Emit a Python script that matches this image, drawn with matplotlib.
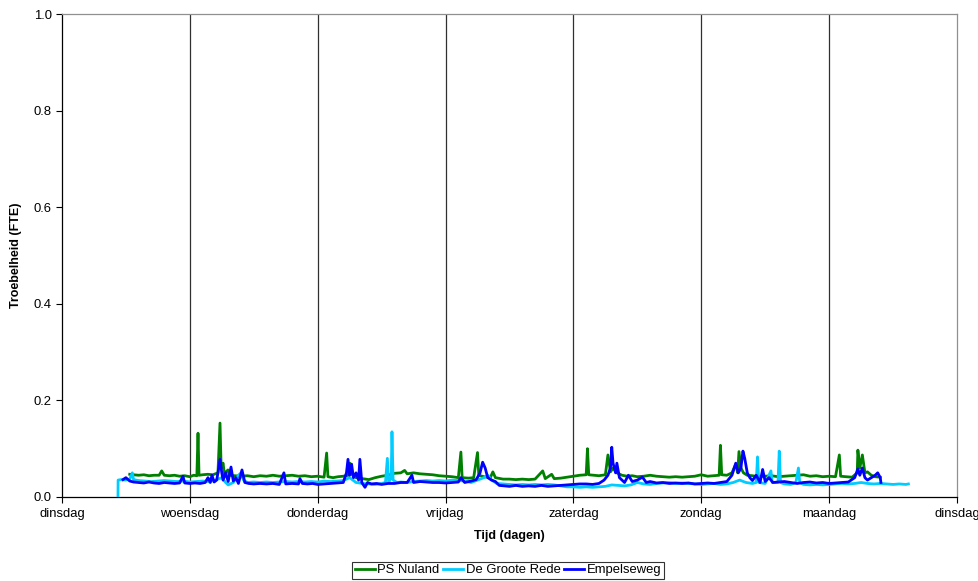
import matplotlib
matplotlib.use("Agg")
from matplotlib import pyplot as plt

plt.rcParams['font.family'] = ['Liberation Sans', 'DejaVu Sans']

days = ["dinsdag", "woensdag", "donderdag", "vrijdag", "zaterdag", "zondag", "maandag", "dinsdag"]

# PS Nuland (tijd in dagen, troebelheid in FTE)
nuland_t = [0.53, 0.56, 0.60, 0.64, 0.68, 0.72, 0.76, 0.78, 0.80, 0.84, 0.88, 0.92, 0.96, 1.00, 1.03, 1.055,
            1.064, 1.072, 1.10, 1.14, 1.18, 1.22, 1.236, 1.245, 1.26, 1.27, 1.298, 1.31, 1.35, 1.40, 1.45,
            1.50, 1.55, 1.60, 1.65, 1.70, 1.75, 1.80, 1.85, 1.90, 1.95, 2.00, 2.05, 2.07, 2.08, 2.12, 2.16,
            2.20, 2.24, 2.252, 2.27, 2.30, 2.35, 2.40, 2.45, 2.50, 2.55, 2.60, 2.65, 2.68, 2.70, 2.75, 2.80,
            2.85, 2.90, 2.95, 3.00, 3.05, 3.10, 3.12, 3.13, 3.18, 3.22, 3.25, 3.26, 3.30, 3.35, 3.37, 3.39,
            3.45, 3.50, 3.55, 3.60, 3.65, 3.70, 3.76, 3.78, 3.83, 3.85, 3.90, 3.95, 4.00, 4.05, 4.10, 4.11,
            4.12, 4.16, 4.20, 4.25, 4.27, 4.29, 4.31, 4.34, 4.38, 4.42, 4.46, 4.50, 4.55, 4.60, 4.65, 4.70,
            4.75, 4.80, 4.85, 4.90, 4.95, 5.00, 5.05, 5.10, 5.14, 5.15, 5.16, 5.20, 5.24, 5.27, 5.285, 5.295,
            5.31, 5.33, 5.36, 5.40, 5.45, 5.50, 5.55, 5.60, 5.65, 5.70, 5.75, 5.80, 5.85, 5.90, 5.95, 6.00,
            6.05, 6.08, 6.09, 6.13, 6.18, 6.22, 6.225, 6.24, 6.26, 6.28, 6.30, 6.33, 6.36, 6.40]
nuland_v = [0.047, 0.046, 0.045, 0.046, 0.044, 0.045, 0.045, 0.054, 0.045, 0.044, 0.045, 0.043, 0.044, 0.042, 0.045, 0.044,
            0.132, 0.045, 0.046, 0.047, 0.046, 0.050, 0.153, 0.060, 0.070, 0.048, 0.056, 0.045, 0.044, 0.043, 0.044,
            0.042, 0.044, 0.043, 0.045, 0.043, 0.044, 0.045, 0.043, 0.044, 0.042, 0.043, 0.041, 0.091, 0.042, 0.040, 0.042,
            0.043, 0.045, 0.070, 0.046, 0.040, 0.038, 0.036, 0.040, 0.043, 0.045, 0.049, 0.050, 0.055, 0.048, 0.050, 0.048,
            0.047, 0.046, 0.044, 0.043, 0.042, 0.040, 0.093, 0.040, 0.039, 0.040, 0.092, 0.045, 0.042, 0.040, 0.052, 0.040,
            0.037, 0.037, 0.036, 0.037, 0.036, 0.037, 0.054, 0.038, 0.047, 0.038, 0.039, 0.041, 0.043, 0.045, 0.046, 0.100,
            0.046, 0.045, 0.044, 0.046, 0.087, 0.052, 0.060, 0.050, 0.045, 0.043, 0.044, 0.042, 0.043, 0.045, 0.043, 0.042,
            0.041, 0.042, 0.041, 0.042, 0.043, 0.046, 0.043, 0.044, 0.045, 0.107, 0.046, 0.045, 0.050, 0.068, 0.050, 0.094,
            0.060, 0.050, 0.045, 0.044, 0.042, 0.043, 0.044, 0.042, 0.043, 0.044, 0.045, 0.046, 0.043, 0.044, 0.042, 0.043,
            0.042, 0.087, 0.043, 0.042, 0.041, 0.050, 0.097, 0.060, 0.087, 0.050, 0.052, 0.045, 0.042, 0.041]

# De Groote Rede
rede_t = [0.438, 0.439, 0.46, 0.50, 0.53, 0.55, 0.56, 0.60, 0.65, 0.70, 0.75, 0.80, 0.85, 0.90, 0.95, 1.00,
          1.05, 1.10, 1.15, 1.20, 1.25, 1.28, 1.30, 1.34, 1.38, 1.40, 1.42, 1.45, 1.50, 1.55, 1.60, 1.65,
          1.70, 1.75, 1.80, 1.85, 1.90, 1.95, 2.00, 2.05, 2.10, 2.15, 2.20, 2.25, 2.30, 2.35, 2.40, 2.45,
          2.50, 2.53, 2.545, 2.555, 2.575, 2.581, 2.59, 2.62, 2.65, 2.70, 2.75, 2.80, 2.85, 2.90, 2.95, 3.00,
          3.05, 3.10, 3.15, 3.20, 3.25, 3.30, 3.33, 3.36, 3.40, 3.45, 3.50, 3.55, 3.60, 3.65, 3.70, 3.75,
          3.80, 3.85, 3.90, 3.95, 4.00, 4.05, 4.10, 4.15, 4.20, 4.25, 4.30, 4.35, 4.40, 4.45, 4.50, 4.55,
          4.60, 4.65, 4.70, 4.75, 4.80, 4.85, 4.90, 4.95, 5.00, 5.05, 5.10, 5.15, 5.20, 5.25, 5.30, 5.35,
          5.40, 5.43, 5.44, 5.45, 5.50, 5.545, 5.555, 5.60, 5.61, 5.62, 5.65, 5.70, 5.74, 5.76, 5.77, 5.80,
          5.85, 5.90, 5.95, 6.00, 6.05, 6.10, 6.15, 6.20, 6.25, 6.30, 6.35, 6.40, 6.45, 6.50, 6.55, 6.60, 6.62]
rede_v = [0.0, 0.035, 0.036, 0.035, 0.037, 0.050, 0.036, 0.034, 0.033, 0.032, 0.033, 0.034, 0.033, 0.032, 0.033, 0.031,
          0.032, 0.033, 0.032, 0.035, 0.040, 0.030, 0.025, 0.030, 0.045, 0.050, 0.035, 0.030, 0.031, 0.030, 0.031, 0.030,
          0.031, 0.032, 0.031, 0.032, 0.031, 0.032, 0.031, 0.033, 0.032, 0.033, 0.034, 0.040, 0.030, 0.028, 0.027, 0.026,
          0.028, 0.030, 0.080, 0.030, 0.040, 0.135, 0.035, 0.030, 0.031, 0.030, 0.032, 0.033, 0.034, 0.033, 0.034, 0.033,
          0.035, 0.034, 0.033, 0.030, 0.035, 0.040, 0.045, 0.035, 0.028, 0.027, 0.026, 0.025, 0.026, 0.025, 0.026, 0.025,
          0.026, 0.025, 0.023, 0.021, 0.021, 0.020, 0.021, 0.020, 0.021, 0.022, 0.025, 0.024, 0.023, 0.025, 0.030, 0.027,
          0.026, 0.028, 0.029, 0.030, 0.028, 0.029, 0.028, 0.027, 0.026, 0.027, 0.028, 0.026, 0.027, 0.030, 0.035, 0.030,
          0.028, 0.030, 0.083, 0.030, 0.028, 0.054, 0.030, 0.030, 0.095, 0.030, 0.027, 0.026, 0.030, 0.060, 0.030, 0.026,
          0.025, 0.026, 0.025, 0.026, 0.027, 0.028, 0.027, 0.028, 0.030, 0.028, 0.027, 0.028, 0.027, 0.026, 0.027, 0.026, 0.027]

# Empelseweg
empel_t = [0.477, 0.50, 0.53, 0.56, 0.60, 0.64, 0.68, 0.72, 0.76, 0.80, 0.84, 0.88, 0.92, 0.946, 0.96, 1.00,
           1.04, 1.08, 1.12, 1.142, 1.16, 1.173, 1.19, 1.21, 1.22, 1.236, 1.25, 1.26, 1.28, 1.30, 1.322, 1.34,
           1.36, 1.38, 1.408, 1.43, 1.46, 1.50, 1.55, 1.60, 1.65, 1.70, 1.736, 1.75, 1.80, 1.85, 1.861, 1.88,
           1.92, 1.96, 2.00, 2.05, 2.10, 2.15, 2.20, 2.225, 2.237, 2.25, 2.265, 2.28, 2.30, 2.32, 2.33, 2.345,
           2.37, 2.39, 2.42, 2.46, 2.50, 2.55, 2.60, 2.65, 2.70, 2.737, 2.75, 2.80, 2.85, 2.90, 2.95, 3.00,
           3.05, 3.10, 3.12, 3.15, 3.20, 3.24, 3.27, 3.29, 3.31, 3.33, 3.36, 3.39, 3.42, 3.46, 3.50, 3.55,
           3.60, 3.65, 3.70, 3.75, 3.80, 3.85, 3.90, 3.95, 4.00, 4.05, 4.10, 4.15, 4.20, 4.24, 4.27, 4.29,
           4.30, 4.31, 4.33, 4.34, 4.36, 4.40, 4.43, 4.46, 4.50, 4.54, 4.57, 4.60, 4.65, 4.70, 4.75, 4.80,
           4.85, 4.90, 4.95, 5.00, 5.05, 5.10, 5.15, 5.20, 5.24, 5.27, 5.29, 5.31, 5.326, 5.34, 5.36, 5.38,
           5.40, 5.43, 5.46, 5.48, 5.50, 5.53, 5.56, 5.60, 5.65, 5.70, 5.75, 5.80, 5.85, 5.90, 5.95, 6.00,
           6.05, 6.10, 6.15, 6.20, 6.225, 6.24, 6.26, 6.28, 6.30, 6.33, 6.36, 6.38, 6.40, 6.405]
empel_v = [0.036, 0.040, 0.033, 0.031, 0.030, 0.029, 0.031, 0.029, 0.028, 0.030, 0.029, 0.028, 0.029, 0.043, 0.029, 0.028,
           0.029, 0.028, 0.030, 0.040, 0.030, 0.045, 0.031, 0.035, 0.050, 0.078, 0.050, 0.035, 0.050, 0.032, 0.062, 0.033,
           0.040, 0.028, 0.056, 0.030, 0.028, 0.027, 0.028, 0.027, 0.028, 0.026, 0.050, 0.027, 0.028, 0.027, 0.038, 0.028,
           0.027, 0.028, 0.026, 0.027, 0.028, 0.029, 0.030, 0.050, 0.078, 0.045, 0.068, 0.040, 0.050, 0.035, 0.078, 0.030,
           0.020, 0.030, 0.027, 0.028, 0.026, 0.028, 0.028, 0.030, 0.030, 0.045, 0.030, 0.032, 0.031, 0.030, 0.030, 0.029,
           0.030, 0.031, 0.040, 0.030, 0.033, 0.036, 0.050, 0.072, 0.060, 0.040, 0.035, 0.032, 0.024, 0.023, 0.022, 0.024,
           0.022, 0.023, 0.022, 0.024, 0.022, 0.023, 0.024, 0.025, 0.026, 0.027, 0.027, 0.026, 0.028, 0.035, 0.045, 0.060,
           0.103, 0.070, 0.050, 0.070, 0.040, 0.030, 0.045, 0.032, 0.035, 0.041, 0.030, 0.032, 0.029, 0.030, 0.028, 0.029,
           0.028, 0.029, 0.027, 0.028, 0.029, 0.028, 0.030, 0.032, 0.045, 0.070, 0.050, 0.060, 0.095, 0.080, 0.050, 0.040,
           0.034, 0.045, 0.030, 0.057, 0.032, 0.040, 0.030, 0.031, 0.032, 0.030, 0.028, 0.030, 0.031, 0.029, 0.030, 0.028,
           0.029, 0.030, 0.031, 0.040, 0.058, 0.045, 0.060, 0.040, 0.035, 0.040, 0.045, 0.050, 0.040, 0.030]

fig = plt.figure(figsize=(9.79, 5.81), dpi=100)
ax = fig.add_axes([0.0633, 0.1446, 0.9142, 0.8313])

# vertical day lines
for d in range(1, 7):
    ax.axvline(d, color='#303030', linewidth=0.9, zorder=1)

ax.plot(nuland_t, nuland_v, color='#008000', linewidth=2.0, label='PS Nuland', zorder=2)
ax.plot(rede_t, rede_v, color='#00CCFF', linewidth=2.0, label='De Groote Rede', zorder=3)
ax.plot(empel_t, empel_v, color='#0000FF', linewidth=2.0, label='Empelseweg', zorder=4)

ax.set_xlim(0, 7)
ax.set_ylim(0, 1.0)
ax.set_xticks(range(8))
ax.set_xticklabels(days)
ax.set_yticks([0.0, 0.2, 0.4, 0.6, 0.8, 1.0])
ax.set_yticklabels(['0.0', '0.2', '0.4', '0.6', '0.8', '1.0'])
ax.tick_params(axis='both', labelsize=9.4, direction='out', length=4, width=0.8, color='black')
ax.tick_params(axis='x', pad=4)

ax.spines['left'].set_color('black')
ax.spines['bottom'].set_color('black')
ax.spines['top'].set_color('#909090')
ax.spines['right'].set_color('#909090')
for s in ax.spines.values():
    s.set_linewidth(0.9)

ax.set_xlabel('Tijd (dagen)', fontsize=9, fontweight='bold', labelpad=7)
ax.set_ylabel('Troebelheid (FTE)', fontsize=9, fontweight='bold', labelpad=8)

leg = fig.legend(loc='lower center', bbox_to_anchor=(0.519, 0.0), ncol=3, fontsize=9.4,
                 frameon=True, fancybox=False, edgecolor='black', handlelength=1.5,
                 handletextpad=0.2, columnspacing=0.3, borderpad=0.2, borderaxespad=0.15)
leg.get_frame().set_linewidth(0.8)

fig.savefig('out.png', dpi=100)
